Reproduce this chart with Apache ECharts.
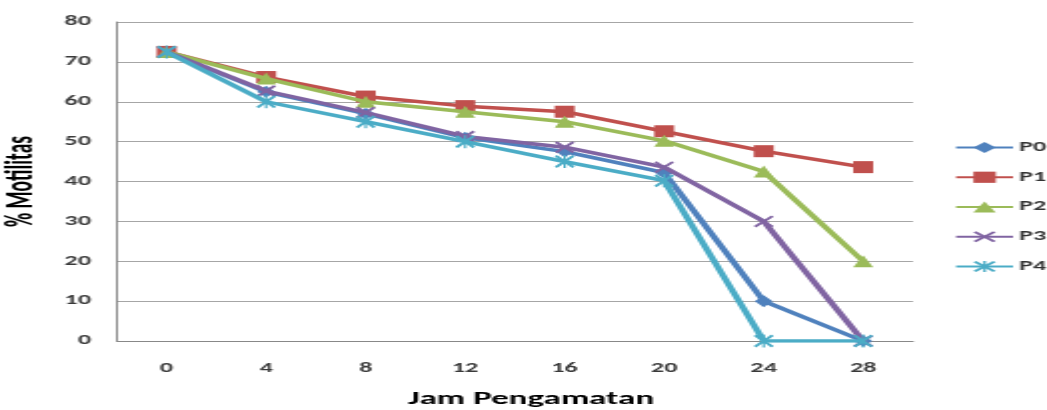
<!DOCTYPE html>
<html>
<head>
<meta charset="utf-8">
<script src="https://cdn.jsdelivr.net/npm/echarts@6/dist/echarts.min.js"></script>
<style>
  html, body { margin: 0; padding: 0; background: #fff; overflow: hidden; }
  #wrap { width: 1047px; height: 410px; overflow: hidden; position: relative; }
  #chart { width: 560px; height: 410px; transform: scaleX(1.99809); transform-origin: 0 0; }
</style>
</head>
<body>
<div id="wrap"><div id="chart"></div></div>
<script>
const categories = ['0', '4', '8', '12', '16', '20', '24', '28'];
const seriesNames = ['P0', 'P1', 'P2', 'P3', 'P4'];
const p0 = [72.5, 62.5, 57, 51, 47.5, 42.2, 10, 0];
const p1 = [72.5, 66.2, 61.3, 58.9, 57.5, 52.6, 47.6, 43.6];
const p2 = [72.5, 65.8, 60, 57.5, 55, 50.2, 42.5, 20];
const p3 = [72.5, 62.7, 57.3, 51.3, 48.6, 43.6, 30, 0];
const p4 = [72.5, 60, 55, 50, 45, 40.2, 0, 0];
const yTicks = { min: 0, max: 80, interval: 10 };

const colors = ['#4F81BD', '#C0504D', '#9BBB59', '#8064A2', '#4BACC6'];
const crossPath = 'path://M0,1.2 L1.2,0 L10,8.8 L8.8,10 Z M8.8,0 L10,1.2 L1.2,10 L0,8.8 Z';
const starPath = 'path://M0,1.2 L1.2,0 L10,8.8 L8.8,10 Z M8.8,0 L10,1.2 L1.2,10 L0,8.8 Z M4.4,0 L5.6,0 L5.6,10 L4.4,10 Z';
const symbols = ['diamond', 'rect', 'triangle', crossPath, starPath];
const sizes = [[9, 12], [10, 12], [10, 12], [10, 12], [10, 13]];
const dataSets = [p0, p1, p2, p3, p4];

const fontFam = 'Carlito, "Liberation Sans", Arial, sans-serif';

const chart = echarts.init(document.getElementById('chart'));
chart.setOption({
  animation: false,
  color: colors,
  grid: { left: 58.5, right: 103.1, top: 22, bottom: 69, containLabel: false, outerBoundsMode: 'none' },
  legend: {
    orient: 'vertical',
    left: 477.5,
    top: 141,
    padding: 0,
    itemWidth: 28.5,
    itemHeight: 14,
    itemGap: 16.75,
    textStyle: { fontFamily: fontFam, fontWeight: 'bold', fontSize: 13, color: '#333', padding: [0, 0, 0, -2] },
    data: seriesNames
  },
  xAxis: {
    type: 'category',
    data: categories,
    boundaryGap: true,
    name: 'Jam Pengamatan',
    nameLocation: 'middle',
    nameGap: 50,
    nameTextStyle: { fontFamily: fontFam, fontWeight: 'bold', fontSize: 17.5, color: '#000', padding: [0, 0, 0, 16] },
    axisLine: { lineStyle: { color: '#888', width: 1 } },
    axisTick: { show: false },
    axisLabel: { margin: 21, fontFamily: fontFam, fontWeight: 'bold', fontSize: 13, color: '#3a3a3a' },
    splitLine: { show: false }
  },
  yAxis: {
    type: 'value',
    min: yTicks.min,
    max: yTicks.max,
    interval: yTicks.interval,
    name: '% Motilitas',
    nameLocation: 'middle',
    nameGap: 36.5,
    nameTextStyle: { fontFamily: fontFam, fontWeight: 'bold', fontSize: 19.5, color: '#000' },
    axisLine: { show: true, lineStyle: { color: '#888', width: 1 } },
    axisTick: { show: false },
    axisLabel: { margin: 13, fontFamily: fontFam, fontWeight: 'bold', fontSize: 13, color: '#3a3a3a' },
    splitLine: { show: true, lineStyle: { color: '#a6a6a6', width: 1 } }
  },
  series: dataSets.map((d, i) => ({
    name: seriesNames[i],
    type: 'line',
    data: d,
    symbol: symbols[i],
    symbolSize: sizes[i],
    showAllSymbol: true,
    lineStyle: { width: 3.5, color: colors[i] },
    itemStyle: { color: colors[i] },
    z: 2 + i
  }))
});
</script>
</body>
</html>
